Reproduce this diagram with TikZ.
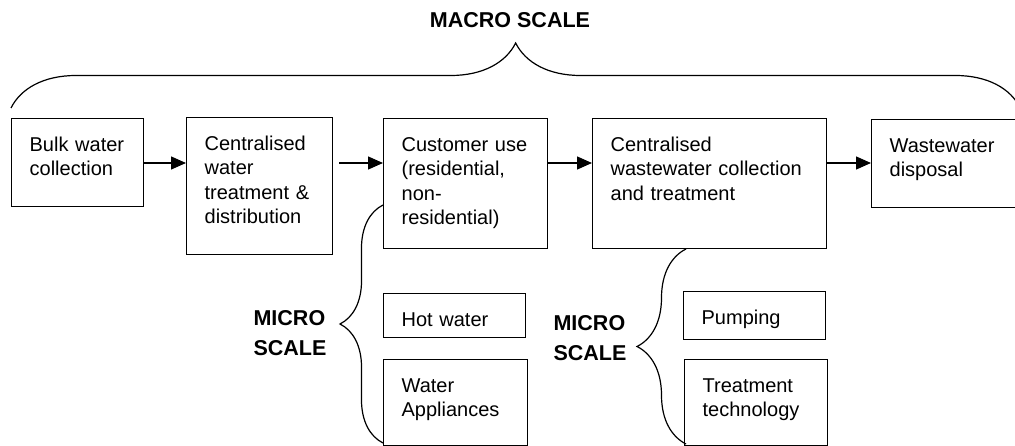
\documentclass[tikz,border=0pt]{standalone}
\usepackage{fontspec}
\setmainfont{Liberation Sans}
\usetikzlibrary{arrows.meta,decorations.pathreplacing}

\begin{document}
\begin{tikzpicture}[
    x=1pt, y=-1pt,
    stage/.style={draw, line width=1.3pt, anchor=north west, align=left, inner xsep=18pt, inner ysep=10pt, text height=22.4pt, font=\fontsize{20}{24.5}\selectfont},
    scalelabel/.style={font=\bfseries\fontsize{21.5}{30}\selectfont, align=left},
    arrow/.style={-{Triangle[length=15pt,width=13pt]}, line width=1.3pt},
    scalebrace/.style={decorate, decoration={brace, amplitude=#1}, line width=1.2pt}
]
\useasboundingbox (0,0) rectangle (1015,446);

% Macro chain
\node[stage, text width=96pt, text depth=45.6pt] (bulk) at (11,118) {Bulk water\\collection};
\node[stage, text width=110pt, text depth=94.6pt] (treat) at (186,117) {Centralised\\water\\treatment \&\\distribution};
\node[stage, text width=128pt, text depth=87.6pt] (cust) at (383,118) {Customer use\\(residential,\\non-\\residential)};
\node[stage, text width=198pt, text depth=87.6pt] (wwtreat) at (592,118) {Centralised\\wastewater collection\\and treatment};
\node[stage, text width=112pt, text depth=45.6pt] (disp) at (871,119) {Wastewater\\disposal};

% Flow arrows
\coordinate (flow) at (0,163);
\draw[arrow] (bulk.east |- flow) -- (treat.west |- flow);
\draw[arrow, shorten <=6pt] (treat.east |- flow) -- (cust.west |- flow);
\draw[arrow] (cust.east |- flow) -- (wwtreat.west |- flow);
\draw[arrow] (wwtreat.east |- flow) -- (disp.west |- flow);

% Macro scale brace
\draw[scalebrace=65pt] ([yshift=10pt]bulk.north west) -- ([yshift=10pt]bulk.north west -| disp.north east);
\node[scalelabel] (macro) at (510,20) {MACRO SCALE};

% Micro scale: customer use
\node[stage, text width=106pt, text depth=1.6pt] (hotw) at (383,293) {Hot water};
\node[stage, text width=108pt, text depth=43.6pt] (appl) at (383,359) {Water\\Appliances};
\coordinate (ub1) at (383,205);
\coordinate (lb1) at (383,443);
\draw[scalebrace=43pt] (lb1) -- (ub1);
\node[scalelabel] (micro1) at (290,333.5) {MICRO\\SCALE};

% Micro scale: wastewater treatment
\node[stage, text width=106pt, text depth=5.6pt] (pump) at (683,291) {Pumping};
\node[stage, text width=107pt, text depth=43.6pt] (ttech) at (684,359) {Treatment\\technology};
\coordinate (ub2) at (686,249);
\coordinate (lb2) at (686,444);
\draw[scalebrace=49pt] (lb2) -- (ub2);
\node[scalelabel] (micro2) at (590,338.5) {MICRO\\SCALE};

\end{tikzpicture}
\end{document}
